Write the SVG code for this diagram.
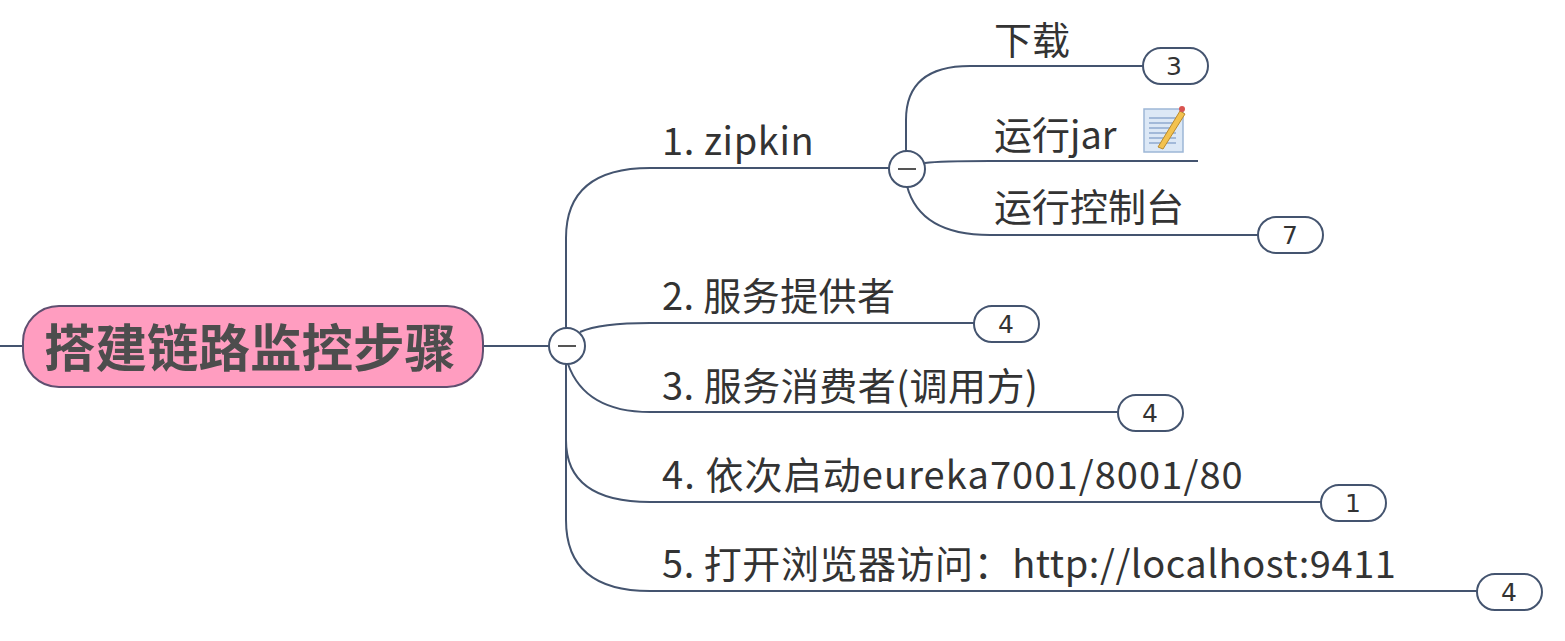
<svg xmlns="http://www.w3.org/2000/svg" width="1565" height="641" viewBox="0 0 1565 641">
<style>
.c{fill:none;stroke:#44546f;stroke-width:2}
.t{font-family:"Noto Sans CJK SC","Noto Sans",sans-serif;font-size:38px;fill:#333}
.b{fill:#fff;stroke:#44546f;stroke-width:2}
.n{font-family:"DejaVu Sans",sans-serif;font-size:25px;fill:#333;text-anchor:middle}
.m{stroke:#555;stroke-width:2}
</style>
<rect width="1565" height="641" fill="#fff"/>
<g id="connectors">
<path class="c" d="M0 346H24"/>
<path class="c" d="M484 346H549"/>
<path class="c" d="M566 329V238Q566 168 650 168H890"/>
<path class="c" d="M580 332Q600 323 650 323H975"/>
<path class="c" d="M568 364Q585 412 650 412H1118"/>
<path class="c" d="M566 364V440Q566 502 650 502H1322"/>
<path class="c" d="M566 364V520Q566 591 650 591H1478"/>
<path class="c" d="M906 152V120Q906 66 970 66H1143"/>
<path class="c" d="M925 163Q940 161 990 161H1198"/>
<path class="c" d="M907 186Q920 235 990 235H1258"/>
</g>
<g id="root">
<rect x="23" y="306" width="460" height="81" rx="36" fill="#ff9dc0" stroke="#5f4f70" stroke-width="2"/>
<text x="44" y="367" font-family="'Noto Sans CJK SC',sans-serif" font-size="51.5" font-weight="700" fill="#4d4d4d">搭建链路监控步骤</text>
</g>
<g id="toggle-root"><circle class="b" cx="567" cy="346" r="18"/><path class="m" d="M558 346H576"/></g>
<g id="toggle-zipkin"><circle class="b" cx="907" cy="169" r="18"/><path class="m" d="M898 169H916"/></g>
<g id="n1"><text class="t" x="662" y="155" letter-spacing="0.6">1. zipkin</text></g>
<g id="n2"><text class="t" x="662" y="310" letter-spacing="0.4">2. 服务提供者</text><rect class="b" x="974" y="306" width="65" height="36" rx="18"/><text class="n" x="1006" y="333">4</text></g>
<g id="n3"><text class="t" x="662" y="400" letter-spacing="0.5">3. 服务消费者(调用方)</text><rect class="b" x="1118" y="395" width="65" height="36" rx="18"/><text class="n" x="1150" y="422">4</text></g>
<g id="n4"><text class="t" x="662" y="489" letter-spacing="1.1">4. 依次启动eureka7001/8001/80</text><rect class="b" x="1321" y="485" width="65" height="36" rx="18"/><text class="n" x="1353" y="512">1</text></g>
<g id="n5"><text class="t" x="662" y="578" letter-spacing="0.55">5. 打开浏览器访问：http://localhost:9411</text><rect class="b" x="1477" y="574" width="65" height="36" rx="18"/><text class="n" x="1509" y="601">4</text></g>
<g id="n1-1"><text class="t" x="994" y="54">下载</text><rect class="b" x="1143" y="48" width="65" height="36" rx="18"/><text class="n" x="1174" y="75">3</text></g>
<g id="n1-2"><text class="t" x="994" y="149">运行jar</text>
<rect x="1144" y="109" width="39" height="43" fill="#dce8f6" stroke="#9db7d6" stroke-width="1.5"/>
<path d="M1149 118H1176M1149 123H1176M1149 128H1176M1149 133H1176M1149 138H1176M1149 143H1176" stroke="#8ea9cf" stroke-width="1.5"/>
<path d="M1158 147L1180 111L1185 114L1163 149Z" fill="#f3c24f" stroke="#b98a2e"/>
<circle cx="1182" cy="109" r="3" fill="#d9534f"/></g>
<g id="n1-3"><text class="t" x="994" y="221">运行控制台</text><rect class="b" x="1258" y="217" width="65" height="36" rx="18"/><text class="n" x="1290" y="244">7</text></g>
</svg>
